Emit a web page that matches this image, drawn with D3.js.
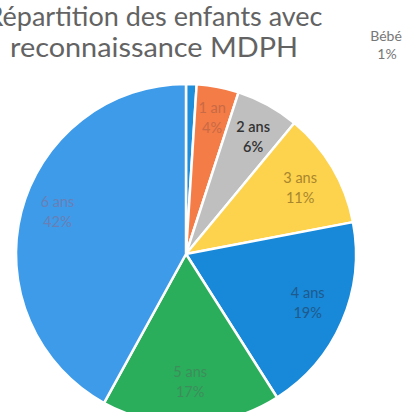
<!DOCTYPE html>
<html><head><meta charset="utf-8">
<script src="https://cdn.jsdelivr.net/npm/d3@7/dist/d3.min.js"></script>
<style>html,body{margin:0;padding:0;background:#fff;overflow:hidden}</style>
</head><body>
<svg id="c" width="408" height="412"></svg>
<script>
const categories = ["Bébé", "1 an", "2 ans", "3 ans", "4 ans", "5 ans", "6 ans"];
const values = [1, 4, 6, 11, 19, 17, 42];
const percentLabels = ["1%", "4%", "6%", "11%", "19%", "17%", "42%"];
const sliceColors = ["#1f8fdc", "#f47c47", "#bfbfbf", "#fdd24c", "#1888d8", "#2bae5c", "#3d9be9"];
const labelColors = ["#777777", "#c86a45", "#333333", "#a8862e", "#1f5a8c", "#3d8d5a", "#6a7fb5"];
const titleLines = ["Répartition des enfants avec", "reconnaissance MDPH"];

const svg = d3.select("#c");
const cx = 186, cy = 254, r = 170;
const font = "Lato, 'Open Sans', sans-serif";

const pie = d3.pie().sort(null).value(d => d)(values);
const arc = d3.arc().innerRadius(0).outerRadius(r);
const g = svg.append("g").attr("transform", `translate(${cx},${cy})`);
g.selectAll("path").data(pie).join("path")
  .attr("d", arc)
  .attr("fill", (d, i) => sliceColors[i])
  .attr("stroke", "#fff").attr("stroke-width", 2.5).attr("stroke-linejoin", "round");

const labelRadius = [0, 0.82, 0.82, 0.78, 0.78, 0.78, 0.78];
const labelShift = [0, 0, 4, 0, -5, -6, -10];
pie.forEach((d, i) => {
  if (i === 0) return;
  const a = (d.startAngle + d.endAngle) / 2;
  const rr = r * labelRadius[i];
  const x = cx + rr * Math.sin(a);
  const y = cy - rr * Math.cos(a) + labelShift[i];
  const t = svg.append("text").attr("text-anchor", "middle")
    .attr("font-family", font).attr("font-size", 14.5)
    .attr("fill", labelColors[i]).attr("font-weight", i === 2 ? 600 : 400);
  t.append("tspan").attr("x", x).attr("y", y - 4).text(categories[i]);
  t.append("tspan").attr("x", x).attr("y", y + 16).text(percentLabels[i]);
});

const t0 = svg.append("text").attr("text-anchor", "middle")
  .attr("font-family", font).attr("font-size", 14).attr("fill", labelColors[0]);
t0.append("tspan").attr("x", 386).attr("y", 41).text(categories[0]);
t0.append("tspan").attr("x", 387).attr("y", 59).text(percentLabels[0]);

const tt = svg.append("text").attr("text-anchor", "middle")
  .attr("font-family", font).attr("font-size", 27).attr("fill", "#636363");
tt.append("tspan").attr("x", 154.5).attr("y", 26).attr("textLength", 336)
  .attr("lengthAdjust", "spacingAndGlyphs").text(titleLines[0]);
tt.append("tspan").attr("x", 154).attr("y", 57).attr("textLength", 288)
  .attr("lengthAdjust", "spacingAndGlyphs").text(titleLines[1]);
</script>
</body></html>
